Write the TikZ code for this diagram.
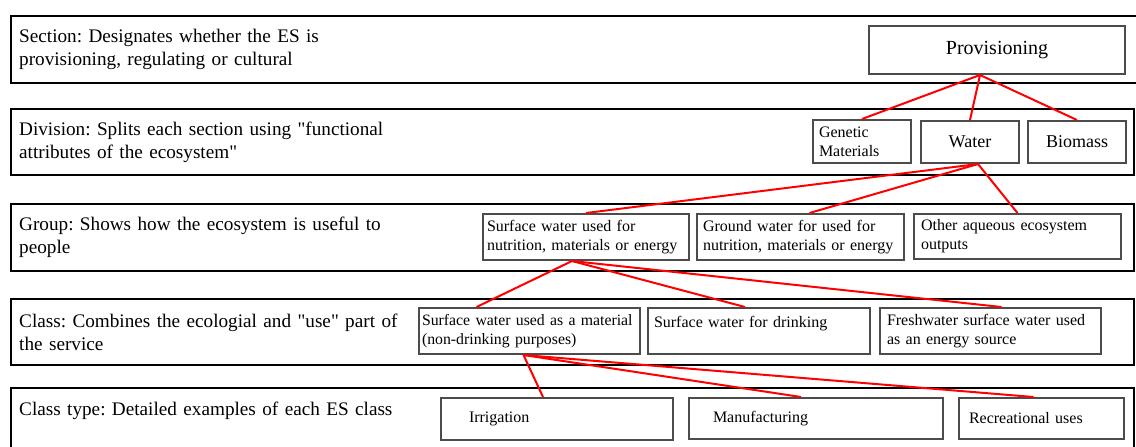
\documentclass[tikz,border=0pt]{standalone}
\usepackage{fontspec}
\setmainfont{Liberation Serif}[Ligatures=TeXOff]
\frenchspacing
\begin{document}
\begin{tikzpicture}[
    x=0.5pt, y=-0.5pt,
    band/.style={draw=black, line width=1.2pt, anchor=north west, align=left, inner xsep=4pt, inner ysep=0pt, text width=553.5pt, font=\fontsize{9.6}{11.5}\selectfont},
    item/.style={draw=black!70, line width=1pt, anchor=north west, align=left, inner xsep=3pt, inner ysep=0pt, font=\fontsize{8}{9.5}\selectfont},
    link/.style={draw=red, line width=1pt}
]
\useasboundingbox (0,0) rectangle (1136,446);
\clip (0,0) rectangle (1136,446);

% levels
\node[band, text width=557pt, minimum height=33.5pt] (section) at (10,15) {Section: Designates whether the ES is\\provisioning, regulating or cultural};
\node[band, minimum height=33pt] (division) at (10,108) {Division: Splits each section using "functional\\attributes of the ecosystem"};
\node[band, minimum height=33.5pt] (group) at (10,203) {Group: Shows how the ecosystem is useful to\\people};
\node[band, minimum height=33pt] (class) at (10,298) {Class: Combines the ecologial and "use" part of\\the service};
\node[band, minimum height=32.5pt] (classtype) at (10,387) {Class type: Detailed examples of each ES class\\\mbox{}};

% section
\node[item, align=center, text width=122pt, minimum height=24pt, font=\fontsize{10}{12}\selectfont] (prov) at (868,25) {Provisioning};

% division
\node[item, text width=43pt, minimum height=21.5pt] (gen) at (812,119) {Genetic\\Materials};
\node[item, align=center, text width=43pt, minimum height=21pt, font=\fontsize{9}{11}\selectfont] (water) at (920,120) {Water};
\node[item, align=center, text width=43pt, minimum height=21pt, font=\fontsize{9}{11}\selectfont] (bio) at (1027,120) {Biomass};

% group
\node[item, inner xsep=2pt, text width=99pt, minimum height=23pt] (nutr) at (482,213) {Surface water used for\\nutrition, materials or energy};
\node[item, text width=97.5pt, minimum height=23pt] (ground) at (696,213) {Ground water for used for\\nutrition, materials or energy};
\node[item, inner xsep=3.5pt, text width=96.5pt, minimum height=22.5pt] (other) at (913,213) {Other aqueous ecosystem\\outputs};

% class
\node[item, inner xsep=1.5pt, text width=107.5pt, minimum height=23pt, font=\fontsize{7.9}{9.5}\selectfont] (mat) at (418,307) {Surface water used as a material\\(non-drinking purposes)};
\node[item, text width=105pt, minimum height=23pt] (drink) at (647,307) {Surface water for drinking\\\mbox{}};
\node[item, inner xsep=3.5pt, text width=103.5pt, minimum height=23pt] (fresh) at (879,307) {Freshwater surface water used\\as an energy source};

% class type
\node[item, inner xsep=14pt, text width=88pt, minimum height=21pt] (irrig) at (440,397) {Irrigation};
\node[item, inner xsep=12pt, text width=103pt, minimum height=20.5pt] (manuf) at (688,397) {Manufacturing};
\node[item, inner xsep=5pt, text width=72.5pt, minimum height=20.5pt] (recre) at (958,397) {Recreational uses};

% links
\foreach \t in {gen, water, bio} {\draw[link] ([xshift=-8.5pt]prov.south) -- (\t.north);}
\draw[link] ([xshift=4pt]water.south) -- (nutr.north);
\draw[link] ([xshift=4pt]water.south) -- ([xshift=4.5pt]ground.north);
\draw[link] ([xshift=4pt]water.south) -- (other.north);
\draw[link] ([xshift=-7pt]nutr.south) -- ([xshift=-26.5pt]mat.north);
\draw[link] ([xshift=-7pt]nutr.south) -- ([xshift=-7pt]drink.north);
\draw[link] ([xshift=-7pt]nutr.south) -- ([xshift=5.5pt]fresh.north);
\draw[link] ([xshift=-3pt]mat.south) -- ([xshift=-7pt]irrig.north);
\draw[link] ([xshift=-3pt]mat.south) -- ([xshift=-7.5pt]manuf.north);
\draw[link] ([xshift=-3pt]mat.south) -- ([xshift=-4pt]recre.north);

\end{tikzpicture}
\end{document}
